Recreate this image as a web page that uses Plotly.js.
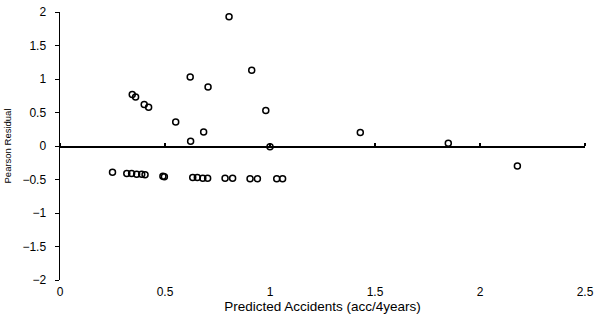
<!DOCTYPE html>
<html>
<head>
<meta charset="utf-8">
<script src="https://cdn.plot.ly/plotly-3.0.1.min.js"></script>
<style>html,body{margin:0;padding:0;background:#fff;}#chart{width:595px;height:321px;}</style>
</head>
<body>
<div id="chart"></div>
<script>
// Upper residuals (above or near zero)
const predictedUpper = [0.344, 0.360, 0.401, 0.422, 0.551, 0.620, 0.622, 0.684, 0.705, 0.805, 0.913, 0.980, 1.000, 1.430, 1.849, 2.178];
const residualUpper  = [0.77, 0.73, 0.62, 0.58, 0.36, 1.03, 0.07, 0.21, 0.88, 1.93, 1.13, 0.53, -0.01, 0.20, 0.04, -0.30];
// Lower band of residuals (near -0.5)
const predictedLower = [0.250, 0.318, 0.341, 0.365, 0.389, 0.405, 0.490, 0.497, 0.632, 0.654, 0.680, 0.703, 0.786, 0.822, 0.905, 0.940, 1.032, 1.060];
const residualLower  = [-0.39, -0.41, -0.41, -0.42, -0.42, -0.43, -0.45, -0.46, -0.47, -0.47, -0.48, -0.48, -0.48, -0.48, -0.49, -0.49, -0.49, -0.49];

const xTicks = [0, 0.5, 1, 1.5, 2, 2.5];
const xTickText = ["0", "0.5", "1", "1.5", "2", "2.5"];
const yTicks = [-2, -1.5, -1, -0.5, 0, 0.5, 1, 1.5, 2];

const markerStyle = {symbol: 'circle-open', size: 6, color: '#000', line: {width: 1.5, color: '#000'}};

const traces = [
  {x: predictedUpper, y: residualUpper, type: 'scatter', mode: 'markers', marker: markerStyle, hoverinfo: 'x+y'},
  {x: predictedLower, y: residualLower, xaxis: 'x2', type: 'scatter', mode: 'markers', marker: markerStyle, hoverinfo: 'x+y'}
];

const font = {family: 'Liberation Sans, Arial, sans-serif', size: 11, color: '#000'};

const layout = {
  width: 595, height: 321,
  margin: {l: 60, r: 10, t: 12, b: 41},
  paper_bgcolor: '#fff', plot_bgcolor: '#fff',
  showlegend: false,
  font: font,
  xaxis: {
    range: [0, 2.5], tickvals: xTicks, ticktext: xTickText,
    showgrid: false, zeroline: false, showline: false, ticks: '',
    ticklabelstandoff: 3,
    tickfont: {family: font.family, size: 12, color: '#000'},
    title: {text: 'Predicted Accidents (acc/4years)', font: {family: font.family, size: 13.5, color: '#000'}, standoff: 1}
  },
  xaxis2: {
    range: [0, 2.5], tickvals: xTicks, overlaying: 'x', anchor: 'free', position: 0.5, side: 'top',
    showgrid: false, zeroline: false, showline: true, linecolor: '#000', linewidth: 1.5,
    ticks: 'outside', ticklen: 3, tickwidth: 1.5, tickcolor: '#000', showticklabels: false
  },
  yaxis: {
    range: [-2, 2], tickvals: yTicks,
    showgrid: false, zeroline: false,
    showline: true, linecolor: '#000', linewidth: 1.5,
    ticks: 'outside', ticklen: 4, tickcolor: '#000', ticklabelstandoff: 6,
    tickfont: {family: font.family, size: 12, color: '#000'},
    title: {text: 'Pearson Residual', font: {family: font.family, size: 9.5, color: '#000'}, standoff: 9}
  }
};

Plotly.newPlot('chart', traces, layout, {displayModeBar: false, staticPlot: true});
</script>
</body>
</html>
